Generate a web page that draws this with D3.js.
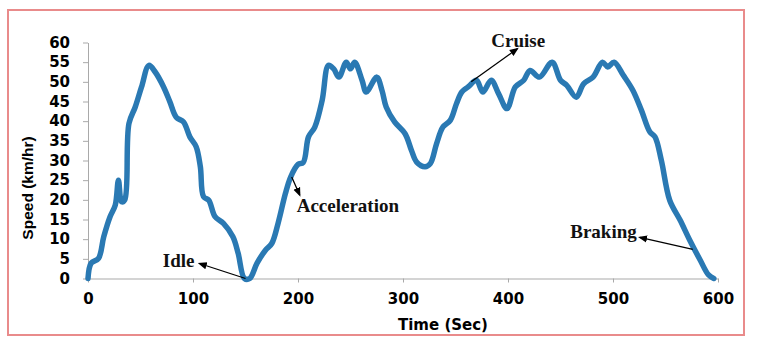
<!DOCTYPE html>
<html>
<head>
<meta charset="utf-8">
<script src="https://cdn.jsdelivr.net/npm/d3@7"></script>
<style>
  body { margin: 0; background: #fff; }
</style>
</head>
<body>
<svg id="chart"></svg>
<script>
// drive cycle, speed
const timeSec = [0, 3, 10, 15, 21, 26, 29, 32, 35, 39, 45, 51, 58, 64, 72, 78, 84, 91, 97, 103,
  107, 110, 115, 121, 129, 138, 143, 149, 154, 161, 169, 175, 181, 188, 193, 200, 205, 210, 216, 223,
  229, 234, 239, 246, 250, 254, 261, 265, 275, 280, 284, 292, 302, 308, 313, 321, 326, 332, 338, 345,
  351, 356, 362, 370, 376, 384, 391, 399, 407, 415, 421, 430, 442, 450, 456, 465, 472, 481, 490, 495,
  501, 510, 519, 527, 535, 540, 546, 554, 564, 573, 583, 591, 596];
const speed = [0, 3.9, 5.1, 10.6, 15.7, 18.7, 25, 19.5, 20, 39.4, 43.6, 48.7, 54.2, 52.5, 48.7, 44.9, 41, 39.8, 36, 33.5,
  28.4, 20.8, 19.9, 15.7, 14, 10.6, 6.4, 0, 0, 3.9, 7.2, 8.9, 14, 21.6, 25.8, 29, 29.5, 36, 38.5, 45.3,
  54.2, 53.3, 51.2, 55, 53.3, 55, 50.4, 47.4, 51.2, 47.8, 43.6, 39.8, 36.8, 32.6, 29.6, 28.4, 29.2, 34.3, 38.5, 40.2,
  44.5, 47.4, 48.7, 50.4, 47.4, 50.4, 47, 43.2, 48.7, 50.4, 52.9, 51.2, 55, 50.4, 49.1, 46.1, 49.5, 51.2, 55, 53.8,
  55, 51.6, 47.8, 42.8, 37.3, 36, 30.1, 19.9, 14.8, 9.8, 4.7, 0.9, 0];

const xTicks = [0, 100, 200, 300, 400, 500, 600];
const yTicks = d3.range(0, 61, 5);

// phase labels: where the arrow touches the curve
const noteText = ["Idle", "Acceleration", "Cruise", "Braking"];
const noteTime = [150, 194, 365, 576];
const noteSpeed = [0, 25.8, 50, 7.4];

const W = 757, H = 347;
const svg = d3.select("#chart").attr("width", W).attr("height", H);

// pink frame round everything
svg.append("rect")
  .attr("x", 8).attr("y", 10)
  .attr("width", 736).attr("height", 325)
  .attr("fill", "none")
  .attr("stroke", "#e98b8b")
  .attr("stroke-width", 2);

const x = d3.scaleLinear().domain([0, 600]).range([88, 718]);
const y = d3.scaleLinear().domain([0, 60]).range([278.5, 42.5]);

const tickFont = "'DejaVu Sans', sans-serif";

// y axis
const yAxis = svg.append("g")
  .attr("transform", `translate(${x(0)},0)`)
  .call(d3.axisLeft(y).tickValues(yTicks).tickSize(5).tickPadding(13).tickSizeOuter(0));
yAxis.select(".domain").attr("stroke", "#a9a9a9");
yAxis.selectAll(".tick line").attr("stroke", "#a9a9a9");
yAxis.selectAll(".tick text")
  .attr("font-family", tickFont).attr("font-weight", "bold").attr("font-size", 15)
  .attr("fill", "#000");

// x axis
const xAxis = svg.append("g")
  .attr("transform", `translate(0,${y(0)})`)
  .call(d3.axisBottom(x).tickValues(xTicks).tickSize(4).tickPadding(11).tickSizeOuter(0));
xAxis.select(".domain").attr("stroke", "#a9a9a9");
xAxis.selectAll(".tick line").attr("stroke", "#a9a9a9");
xAxis.selectAll(".tick text")
  .attr("font-family", tickFont).attr("font-weight", "bold").attr("font-size", 15)
  .attr("fill", "#000");

// axis titles
svg.append("text")
  .attr("x", 443).attr("y", 330)
  .attr("text-anchor", "middle")
  .attr("font-family", tickFont).attr("font-weight", "bold").attr("font-size", 15)
  .attr("fill", "#000")
  .text("Time (Sec)");

svg.append("text")
  .attr("transform", "translate(33,188) rotate(-90)")
  .attr("text-anchor", "middle")
  .attr("font-family", "'Liberation Sans', Arial, sans-serif").attr("font-weight", "bold").attr("font-size", 15.5)
  .attr("fill", "#000")
  .text("Speed (km/hr)");

// the speed trace
const data = timeSec.map((t, i) => ({ t, v: speed[i] }));
const line = d3.line()
  .x(d => x(d.t))
  .y(d => y(d.v))
  .curve(d3.curveCatmullRom.alpha(0.5));

svg.append("path")
  .datum(data)
  .attr("fill", "none")
  .attr("stroke", "#2a79b3")
  .attr("stroke-width", 5.5)
  .attr("stroke-linejoin", "round")
  .attr("stroke-linecap", "round")
  .attr("d", line);

// arrowheads
svg.append("defs").append("marker")
  .attr("id", "head")
  .attr("viewBox", "0 0 10 10")
  .attr("refX", 8).attr("refY", 5)
  .attr("markerWidth", 7).attr("markerHeight", 7)
  .attr("orient", "auto")
  .append("path")
  .attr("d", "M0,1 L10,5 L0,9 Z")
  .attr("fill", "#000");

// offsets (px) from the curve point to arrow tip and to the label
const tipDx = [-46, 8, 46, -53];
const tipDy = [-15, 18, -33, -12];
const labDx = [-51, 5, 20, -56];
const labDy = [-12, 35, -35, -11];
const labAnchor = ["end", "start", "start", "end"];

noteText.forEach((txt, i) => {
  const cx = x(noteTime[i]), cy = y(noteSpeed[i]);
  svg.append("line")
    .attr("x1", cx).attr("y1", cy)
    .attr("x2", cx + tipDx[i]).attr("y2", cy + tipDy[i])
    .attr("stroke", "#000")
    .attr("stroke-width", 1.3)
    .attr("marker-end", "url(#head)");
  svg.append("text")
    .attr("x", cx + labDx[i]).attr("y", cy + labDy[i])
    .attr("text-anchor", labAnchor[i])
    .attr("font-family", "'Liberation Serif', 'Times New Roman', serif")
    .attr("font-weight", "bold").attr("font-size", 19)
    .attr("fill", "#111")
    .text(txt);
});
</script>
</body>
</html>
